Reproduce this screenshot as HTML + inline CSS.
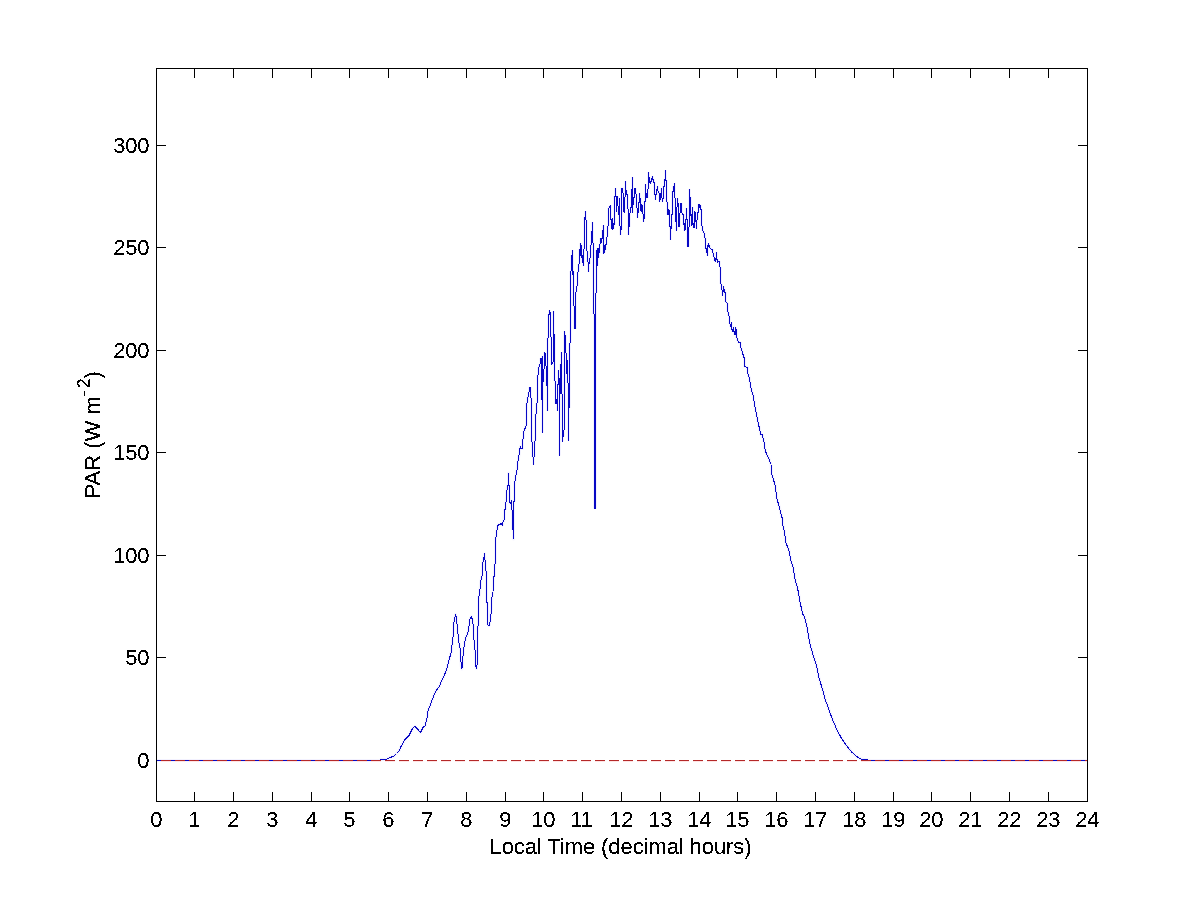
<!DOCTYPE html>
<html><head><meta charset="utf-8"><title>PAR plot</title>
<style>
html,body{margin:0;padding:0;background:#fff;}
body{width:1201px;height:900px;overflow:hidden;font-family:"Liberation Sans",sans-serif;}
svg{display:block;}
text{font-family:"Liberation Sans",sans-serif;font-size:22px;fill:#000;}
</style></head><body>
<svg width="1201" height="900" viewBox="0 0 1201 900">
<defs><filter id="bw" x="0" y="0" width="1201" height="900" filterUnits="userSpaceOnUse" color-interpolation-filters="sRGB"><feComponentTransfer><feFuncA type="discrete" tableValues="0 0 0 0 0 0 0 0 0 1 1 1 1 1 1 1 1 1 1 1"/></feComponentTransfer></filter></defs>
<rect x="0" y="0" width="1201" height="900" fill="#ffffff"/>
<g stroke="#000" stroke-width="1" fill="none" shape-rendering="crispEdges">
<rect x="156.5" y="68.5" width="931.0" height="733.0"/>
<path d="M194.5 68.5 v9.5 M194.5 801.5 v-9.5"/><path d="M233.5 68.5 v9.5 M233.5 801.5 v-9.5"/><path d="M272.5 68.5 v9.5 M272.5 801.5 v-9.5"/><path d="M311.5 68.5 v9.5 M311.5 801.5 v-9.5"/><path d="M349.5 68.5 v9.5 M349.5 801.5 v-9.5"/><path d="M388.5 68.5 v9.5 M388.5 801.5 v-9.5"/><path d="M427.5 68.5 v9.5 M427.5 801.5 v-9.5"/><path d="M466.5 68.5 v9.5 M466.5 801.5 v-9.5"/><path d="M505.5 68.5 v9.5 M505.5 801.5 v-9.5"/><path d="M543.5 68.5 v9.5 M543.5 801.5 v-9.5"/><path d="M582.5 68.5 v9.5 M582.5 801.5 v-9.5"/><path d="M621.5 68.5 v9.5 M621.5 801.5 v-9.5"/><path d="M660.5 68.5 v9.5 M660.5 801.5 v-9.5"/><path d="M699.5 68.5 v9.5 M699.5 801.5 v-9.5"/><path d="M737.5 68.5 v9.5 M737.5 801.5 v-9.5"/><path d="M776.5 68.5 v9.5 M776.5 801.5 v-9.5"/><path d="M815.5 68.5 v9.5 M815.5 801.5 v-9.5"/><path d="M854.5 68.5 v9.5 M854.5 801.5 v-9.5"/><path d="M893.5 68.5 v9.5 M893.5 801.5 v-9.5"/><path d="M931.5 68.5 v9.5 M931.5 801.5 v-9.5"/><path d="M970.5 68.5 v9.5 M970.5 801.5 v-9.5"/><path d="M1009.5 68.5 v9.5 M1009.5 801.5 v-9.5"/><path d="M1048.5 68.5 v9.5 M1048.5 801.5 v-9.5"/>
<path d="M156.5 760.5 h9.5 M1087.5 760.5 h-9.5"/><path d="M156.5 657.5 h9.5 M1087.5 657.5 h-9.5"/><path d="M156.5 555.5 h9.5 M1087.5 555.5 h-9.5"/><path d="M156.5 452.5 h9.5 M1087.5 452.5 h-9.5"/><path d="M156.5 350.5 h9.5 M1087.5 350.5 h-9.5"/><path d="M156.5 247.5 h9.5 M1087.5 247.5 h-9.5"/><path d="M156.5 145.5 h9.5 M1087.5 145.5 h-9.5"/>
</g>
<polyline fill="none" stroke="#f3f2ff" stroke-width="3" stroke-linejoin="round" points="157,760.5 380,760.5 381,759.5 386.5,759.5 390,757.5 393.5,756.3 396.5,753.5 399,751 401,746.5 403.5,742 405.5,738.8 409,735.5 412.5,728.5 415,726.3 417.5,729 420.5,732.5 423,727.5 425,726 427.5,716 427.8,711.5 431,703 434,695 435.5,691.5 439,687 442,680 444.5,675 447,668 449,660 451.2,652.5 452,645.5 453,637.5 453.8,623 455.5,614.5 456.5,617 457.5,630 459,643 460.5,651 461.2,666 461.8,669 462.5,667 463,656 464.5,643 465.8,637 467,635.5 468.5,630 469.7,620 471.3,616.5 472.5,620 473.5,627 474,640 475,650 475.7,666 476.5,668.5 477.2,664 477.5,650 477.7,628 478.5,624 478.7,597 479.7,594 480.5,582.5 482,576 482.5,564.5 483.5,559.5 484.5,554 485,560 485.8,571 486.5,572 486.5,602 487.5,603 488,625 489,625.5 490,622 491,614 491.8,600 492.2,595 493,592 493.5,577 494.5,576 494.8,564 495.5,563 495.5,539.5 496.5,534 497.5,526.5 498.5,524.5 500,525 501,523.5 502.5,525 503.2,521 504,520.5 504.5,510 505.5,509 505.8,505 506.5,495 507.5,486 508.5,485 508.5,473 509,485 509.7,503 510.5,503 511.5,501 511.8,510 512.5,511 512.5,529 513.5,530 513.5,539 513.5,502 514.5,501 514.5,485 515.5,477 517,470 517.8,462 519,455 519.8,449 520.5,446.5 521,448.5 522.5,448.5 522.5,440 523.5,438 523.8,432 525.5,427 526.5,425"/>
<path fill="none" stroke="#f3f2ff" stroke-width="3" d="M526.5 402.5V425M527.5 397V402.5M528.5 392V397M529.5 387V392M530.5 387V398M531.5 398V441.5M532.5 441.5V457M533.5 457V464.5M534.5 440.5V457M535.5 414V440.5M536.5 403V414M537.5 375V403M538.5 367V375M539.5 364V367M540.5 358V364M541.5 358V400M542.5 356V432.5M543.5 369V382M544.5 352V369M545.5 352.5V366M546.5 366V386M547.5 338V411M548.5 314V338M549.5 310V315M550.5 312V337M551.5 337V364.5M552.5 362V364M553.5 311V362M554.5 334V381M555.5 381V404M556.5 399V404M557.5 384V411M558.5 370V385M559.5 378V455.5M560.5 364V394M561.5 352V394M562.5 394V441.5M563.5 430V436.5M564.5 331V430M565.5 335V353M566.5 353V374M567.5 360V383M568.5 383V440.5M569.5 343V408M570.5 271V343M571.5 255V271M572.5 250V275M573.5 271V306M574.5 306V329M575.5 292V329M576.5 286V292M577.5 272V286M578.5 264V272M579.5 249V264M580.5 243V256M581.5 245V258M582.5 255V262.5M583.5 249V266M584.5 217V249M585.5 211V220M586.5 220V251M587.5 251V262M588.5 262V272M589.5 257.5V264M590.5 245V257.5M591.5 231V245M592.5 222V242.5M593.5 242.5V314M594.5 314V508.5M595.5 293V508.5M596.5 250V293M597.5 248V266M598.5 248V258M599.5 244V253M600.5 238V244M601.5 238V243M602.5 230V239M603.5 225V253.7M604.5 245V252.5M605.5 244V250M606.5 237V245M607.5 226V237M608.5 207.5V226M609.5 206V208M610.5 205V220M611.5 219V229M612.5 218V229.5M613.5 223V229M614.5 196V225M615.5 188V197M616.5 196V211.5M617.5 196V206M618.5 206V214.7M619.5 197.5V226.3M620.5 226.3V235.3M621.5 187.5V230M622.5 187.5V193M623.5 192.5V212M624.5 197V212.5M625.5 181V197M626.5 190V195M627.5 194V209M628.5 209V235M629.5 212.5V227M630.5 207V213M631.5 189V207.5M632.5 177V212.5M633.5 197V205M634.5 188V197.5M635.5 188V194M636.5 194V208M637.5 208V218M638.5 201.7V213M639.5 193V202.5M640.5 197.5V210.8M641.5 203.8V211.5M642.5 204.5V213.9M643.5 213.9V221.7M644.5 201V219M645.5 184V201.7M646.5 193V198M647.5 189V198M648.5 172V189M649.5 177V183M650.5 181V183.6M651.5 178V181.5M652.5 176V179.5M653.5 178.9V182.8M654.5 181.7V195M655.5 194V199.6M656.5 189V195M657.5 186V191M658.5 191V193M659.5 192.5V201.7M660.5 192.5V200M661.5 188V198M662.5 197.5V201.7M663.5 186V199M664.5 179V186.7M665.5 170V181M666.5 180V201.7M667.5 201.7V215M668.5 209V215M669.5 210V226.7M670.5 226V240M671.5 214V229M672.5 191V215M673.5 186V191.7M674.5 183V198M675.5 198V222M676.5 207V230.5M677.5 198V207M678.5 202.5V227.4M679.5 213V226.7M680.5 203V213.4M681.5 203V213.4M682.5 213.4V215M683.5 214V225M684.5 223V231M685.5 219V230M686.5 208V220M687.5 219V246.7M688.5 226.7V246.7M689.5 189V226.7M690.5 196.7V216M691.5 214V226M692.5 207V225M693.5 222.5V228M694.5 211V228M695.5 211.7V221.7M696.5 220V228.7M697.5 211.7V220M698.5 204V212.5M699.5 204V208M700.5 205V210M701.5 209V226M702.5 226V231M703.5 231V233M704.5 233V237.5M705.5 237.5V249M706.5 248V253M707.5 245V256M708.5 243V246.7M709.5 245V248M710.5 247.5V249M711.5 248.7V250M712.5 249V252.5M713.5 252.5V256.7M714.5 256.7V261M715.5 258V261.7M716.5 252V260M717.5 259V262.5M718.5 261V262M719.5 261V267M720.5 267V284M721.5 284V290M722.5 290V295.5M723.5 286V292M724.5 289V293M725.5 292V302M726.5 302V303M727.5 303V312M728.5 312V316M729.5 316V324M730.5 324V327M731.5 322V329.5M732.5 329V332M733.5 326.5V332M734.5 331V335M735.5 327V335M736.5 329V338M737.5 338V341"/>
<polyline fill="none" stroke="#f3f2ff" stroke-width="3" stroke-linejoin="round" points="737.5,340 739,342.5 740.5,343 741,348 742.5,353 744.5,359 744.7,366.5 747.5,367.5 748,374 749.5,378 750.5,386 752,392 753.5,396 754.5,405 756.5,414 758.7,425 760.7,434.3 762.4,435 764,441.7 765.3,451 768.7,458.3 771,464.3 771.6,473.7 775.3,485.7 776.7,497.7 780,509.7 782.4,519 783,525.7 784.4,532 786,543.3 788.7,549.3 790.9,560.7 793.3,568 795.3,580.7 797.7,588.7 800,602 802.7,614 804.7,617.3 807.3,628.7 809.3,640.7 811,648 813.3,655.7 816.7,666.3 818.7,677 822,687.7 825.3,699.7 828.7,709 832,718.3 836,727.7 840.7,737 846,745 851.3,751.7 856,756 860.7,759 866,759.7 871,760.5 1087,760.5"/>
<polyline fill="none" stroke="#0808c4" stroke-width="1" stroke-linejoin="round" shape-rendering="crispEdges" points="157,760.5 380,760.5 381,759.5 386.5,759.5 390,757.5 393.5,756.3 396.5,753.5 399,751 401,746.5 403.5,742 405.5,738.8 409,735.5 412.5,728.5 415,726.3 417.5,729 420.5,732.5 423,727.5 425,726 427.5,716 427.8,711.5 431,703 434,695 435.5,691.5 439,687 442,680 444.5,675 447,668 449,660 451.2,652.5 452,645.5 453,637.5 453.8,623 455.5,614.5 456.5,617 457.5,630 459,643 460.5,651 461.2,666 461.8,669 462.5,667 463,656 464.5,643 465.8,637 467,635.5 468.5,630 469.7,620 471.3,616.5 472.5,620 473.5,627 474,640 475,650 475.7,666 476.5,668.5 477.2,664 477.5,650 477.7,628 478.5,624 478.7,597 479.7,594 480.5,582.5 482,576 482.5,564.5 483.5,559.5 484.5,554 485,560 485.8,571 486.5,572 486.5,602 487.5,603 488,625 489,625.5 490,622 491,614 491.8,600 492.2,595 493,592 493.5,577 494.5,576 494.8,564 495.5,563 495.5,539.5 496.5,534 497.5,526.5 498.5,524.5 500,525 501,523.5 502.5,525 503.2,521 504,520.5 504.5,510 505.5,509 505.8,505 506.5,495 507.5,486 508.5,485 508.5,473 509,485 509.7,503 510.5,503 511.5,501 511.8,510 512.5,511 512.5,529 513.5,530 513.5,539 513.5,502 514.5,501 514.5,485 515.5,477 517,470 517.8,462 519,455 519.8,449 520.5,446.5 521,448.5 522.5,448.5 522.5,440 523.5,438 523.8,432 525.5,427 526.5,425"/>
<path fill="none" stroke="#0808c4" stroke-width="1" shape-rendering="crispEdges" d="M526.5 402.5V425M527.5 397V402.5M528.5 392V397M529.5 387V392M530.5 387V398M531.5 398V441.5M532.5 441.5V457M533.5 457V464.5M534.5 440.5V457M535.5 414V440.5M536.5 403V414M537.5 375V403M538.5 367V375M539.5 364V367M540.5 358V364M541.5 358V400M542.5 356V432.5M543.5 369V382M544.5 352V369M545.5 352.5V366M546.5 366V386M547.5 338V411M548.5 314V338M549.5 310V315M550.5 312V337M551.5 337V364.5M552.5 362V364M553.5 311V362M554.5 334V381M555.5 381V404M556.5 399V404M557.5 384V411M558.5 370V385M559.5 378V455.5M560.5 364V394M561.5 352V394M562.5 394V441.5M563.5 430V436.5M564.5 331V430M565.5 335V353M566.5 353V374M567.5 360V383M568.5 383V440.5M569.5 343V408M570.5 271V343M571.5 255V271M572.5 250V275M573.5 271V306M574.5 306V329M575.5 292V329M576.5 286V292M577.5 272V286M578.5 264V272M579.5 249V264M580.5 243V256M581.5 245V258M582.5 255V262.5M583.5 249V266M584.5 217V249M585.5 211V220M586.5 220V251M587.5 251V262M588.5 262V272M589.5 257.5V264M590.5 245V257.5M591.5 231V245M592.5 222V242.5M593.5 242.5V314M594.5 314V508.5M595.5 293V508.5M596.5 250V293M597.5 248V266M598.5 248V258M599.5 244V253M600.5 238V244M601.5 238V243M602.5 230V239M603.5 225V253.7M604.5 245V252.5M605.5 244V250M606.5 237V245M607.5 226V237M608.5 207.5V226M609.5 206V208M610.5 205V220M611.5 219V229M612.5 218V229.5M613.5 223V229M614.5 196V225M615.5 188V197M616.5 196V211.5M617.5 196V206M618.5 206V214.7M619.5 197.5V226.3M620.5 226.3V235.3M621.5 187.5V230M622.5 187.5V193M623.5 192.5V212M624.5 197V212.5M625.5 181V197M626.5 190V195M627.5 194V209M628.5 209V235M629.5 212.5V227M630.5 207V213M631.5 189V207.5M632.5 177V212.5M633.5 197V205M634.5 188V197.5M635.5 188V194M636.5 194V208M637.5 208V218M638.5 201.7V213M639.5 193V202.5M640.5 197.5V210.8M641.5 203.8V211.5M642.5 204.5V213.9M643.5 213.9V221.7M644.5 201V219M645.5 184V201.7M646.5 193V198M647.5 189V198M648.5 172V189M649.5 177V183M650.5 181V183.6M651.5 178V181.5M652.5 176V179.5M653.5 178.9V182.8M654.5 181.7V195M655.5 194V199.6M656.5 189V195M657.5 186V191M658.5 191V193M659.5 192.5V201.7M660.5 192.5V200M661.5 188V198M662.5 197.5V201.7M663.5 186V199M664.5 179V186.7M665.5 170V181M666.5 180V201.7M667.5 201.7V215M668.5 209V215M669.5 210V226.7M670.5 226V240M671.5 214V229M672.5 191V215M673.5 186V191.7M674.5 183V198M675.5 198V222M676.5 207V230.5M677.5 198V207M678.5 202.5V227.4M679.5 213V226.7M680.5 203V213.4M681.5 203V213.4M682.5 213.4V215M683.5 214V225M684.5 223V231M685.5 219V230M686.5 208V220M687.5 219V246.7M688.5 226.7V246.7M689.5 189V226.7M690.5 196.7V216M691.5 214V226M692.5 207V225M693.5 222.5V228M694.5 211V228M695.5 211.7V221.7M696.5 220V228.7M697.5 211.7V220M698.5 204V212.5M699.5 204V208M700.5 205V210M701.5 209V226M702.5 226V231M703.5 231V233M704.5 233V237.5M705.5 237.5V249M706.5 248V253M707.5 245V256M708.5 243V246.7M709.5 245V248M710.5 247.5V249M711.5 248.7V250M712.5 249V252.5M713.5 252.5V256.7M714.5 256.7V261M715.5 258V261.7M716.5 252V260M717.5 259V262.5M718.5 261V262M719.5 261V267M720.5 267V284M721.5 284V290M722.5 290V295.5M723.5 286V292M724.5 289V293M725.5 292V302M726.5 302V303M727.5 303V312M728.5 312V316M729.5 316V324M730.5 324V327M731.5 322V329.5M732.5 329V332M733.5 326.5V332M734.5 331V335M735.5 327V335M736.5 329V338M737.5 338V341"/>
<polyline fill="none" stroke="#0808c4" stroke-width="1" stroke-linejoin="round" shape-rendering="crispEdges" points="737.5,340 739,342.5 740.5,343 741,348 742.5,353 744.5,359 744.7,366.5 747.5,367.5 748,374 749.5,378 750.5,386 752,392 753.5,396 754.5,405 756.5,414 758.7,425 760.7,434.3 762.4,435 764,441.7 765.3,451 768.7,458.3 771,464.3 771.6,473.7 775.3,485.7 776.7,497.7 780,509.7 782.4,519 783,525.7 784.4,532 786,543.3 788.7,549.3 790.9,560.7 793.3,568 795.3,580.7 797.7,588.7 800,602 802.7,614 804.7,617.3 807.3,628.7 809.3,640.7 811,648 813.3,655.7 816.7,666.3 818.7,677 822,687.7 825.3,699.7 828.7,709 832,718.3 836,727.7 840.7,737 846,745 851.3,751.7 856,756 860.7,759 866,759.7 871,760.5 1087,760.5"/>
<line x1="160.5" y1="761.5" x2="1087" y2="761.5" stroke="#ffe4e4" stroke-width="1" stroke-dasharray="10 4" shape-rendering="crispEdges"/>
<line x1="160.5" y1="760.5" x2="1087" y2="760.5" stroke="#b42828" stroke-width="1" shape-rendering="crispEdges" stroke-dasharray="10 4"/>
<g filter="url(#bw)">
<g letter-spacing="-0.234">
<text x="150.25" y="827">0</text><text x="188.25" y="827">1</text><text x="227.25" y="827">2</text><text x="266.25" y="827">3</text><text x="305.25" y="827">4</text><text x="343.25" y="827">5</text><text x="382.25" y="827">6</text><text x="421.25" y="827">7</text><text x="460.25" y="827">8</text><text x="499.25" y="827">9</text><text x="531.25" y="827">10</text><text x="570.25" y="827">11</text><text x="609.25" y="827">12</text><text x="648.25" y="827">13</text><text x="687.25" y="827">14</text><text x="725.25" y="827">15</text><text x="764.25" y="827">16</text><text x="803.25" y="827">17</text><text x="842.25" y="827">18</text><text x="881.25" y="827">19</text><text x="919.25" y="827">20</text><text x="958.25" y="827">21</text><text x="997.25" y="827">22</text><text x="1036.25" y="827">23</text><text x="1075.25" y="827">24</text>
<text x="137.25" y="767.9">0</text><text x="125.25" y="664.9">50</text><text x="113.25" y="562.9">100</text><text x="113.25" y="459.9">150</text><text x="113.25" y="357.9">200</text><text x="113.25" y="254.9">250</text><text x="113.25" y="152.9">300</text>
</g>
<text x="620.5" y="853.5" text-anchor="middle" letter-spacing="-0.08">Local Time (decimal hours)</text>
<text transform="translate(100,498.5) rotate(-90)">PAR (W m<tspan dy="-10.5" font-size="17.6" dx="0 2.2">-2</tspan><tspan dy="10.5">)</tspan></text>
</g>
</svg>
</body></html>
